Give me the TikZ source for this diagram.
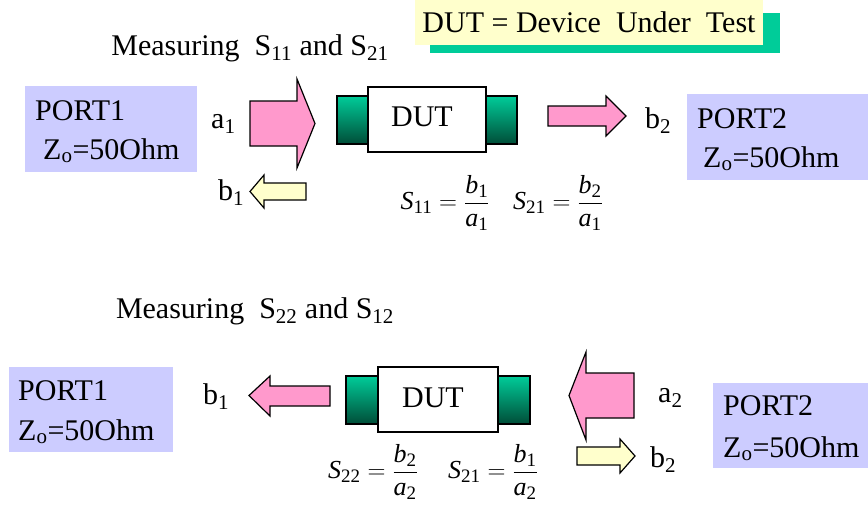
\documentclass[tikz,border=0pt]{standalone}
\usepackage{fontspec}
\setmainfont{Liberation Serif}
\usepackage{amsmath}
\definecolor{lilla}{RGB}{204,204,255}
\definecolor{rosa}{RGB}{255,153,204}
\definecolor{giallo}{RGB}{255,255,204}
\definecolor{verde}{RGB}{0,204,153}
\definecolor{verdescuro}{RGB}{0,77,56}
\newcommand{\pedice}[1]{_{\mbox{\fontsize{19}{19}\selectfont #1}}}
\tikzset{
  testo/.style={font=\fontsize{30}{34}\selectfont, inner sep=0pt},
  formula/.style={font=\fontsize{26}{30}\selectfont, inner sep=0pt},
  porta/.style={fill=lilla, inner sep=0pt},
  freccia/.style={draw=black, line width=1.2pt, line join=miter},
  connettore/.style={draw=black, line width=1.2pt, top color=verde, bottom color=verdescuro},
  scatola/.style={draw=black, line width=1.2pt, fill=white, inner sep=0pt},
}
\begin{document}
\begin{tikzpicture}[x=1pt, y=-1pt]
\useasboundingbox (0,0) rectangle (868,512);
% Legenda
\fill[verde] (430,13) rectangle (780,53);
\node[fill=giallo, inner sep=0pt, minimum width=348, minimum height=45] (legenda) at (589,22.5) {};
\node[testo] (legtesto) at (legenda) {DUT = Device\ \ Under\ \ Test};

% Misura di S11 e S21
\node[testo] (titolo1) at (250,48) {Measuring\ \ S\textsubscript{11} and S\textsubscript{21}};
\node[porta, minimum width=172, minimum height=86] (porta1a) at (111,129) {};
\node[testo, anchor=base west] (p1a) at (35,120) {PORT1};
\node[testo, anchor=base west] (z1a) at (43,159) {Z\textsubscript{o}=50Ohm};
\node[testo, anchor=base west] (a1a) at (211,128) {a\textsubscript{1}};
\draw[freccia, fill=rosa] (250,101) -- (297,101) -- (297,79) -- (315,123.5) -- (297,168) -- (297,146) -- (250,146) -- cycle;
\node[testo, anchor=base west] (b1a) at (218,200) {b\textsubscript{1}};
\draw[freccia, fill=giallo] (250,191.5) -- (264,175) -- (264,183) -- (306,183) -- (306,200) -- (264,200) -- (264,208) -- cycle;
% DUT
\draw[connettore] (337,96) rectangle (369,144);
\draw[connettore] (486,96) rectangle (517,144);
\node[scatola, minimum width=118, minimum height=65] (dut1) at (427,119.5) {};
\node[testo] (dut1t) at (422,117) {DUT};
\draw[freccia, fill=rosa] (548,106) -- (606,106) -- (606,96) -- (626,116) -- (606,136) -- (606,126) -- (548,126) -- cycle;
\node[testo, anchor=base west] (b2a) at (645,128) {b\textsubscript{2}};
\node[porta, minimum width=181, minimum height=86] (porta2a) at (777.5,137) {};
\node[testo, anchor=base west] (p2a) at (697,128) {PORT2};
\node[testo, anchor=base west] (z2a) at (703,167) {Z\textsubscript{o}=50Ohm};
\node[formula] (s11) at (445,203) {$\textit{S}\pedice{11}=\dfrac{\textit{b}\pedice{1}}{\textit{a}\pedice{1}}$};
\node[formula] (s21) at (558,203) {$\textit{S}\pedice{21}=\dfrac{\textit{b}\pedice{2}}{\textit{a}\pedice{1}}$};

% Misura di S22 e S12
\node[testo] (titolo2) at (255,311) {Measuring\ \ S\textsubscript{22} and S\textsubscript{12}};
\node[porta, minimum width=164, minimum height=85] (porta1b) at (91,409.5) {};
\node[testo, anchor=base west] (p1b) at (18,400) {PORT1};
\node[testo, anchor=base west] (z1b) at (18,440) {Z\textsubscript{o}=50Ohm};
\node[testo, anchor=base west] (b1b) at (203,404) {b\textsubscript{1}};
\draw[freccia, fill=rosa] (249,395.5) -- (270,376) -- (270,386) -- (330,386) -- (330,406) -- (270,406) -- (270,416) -- cycle;
% DUT
\draw[connettore] (346,376) rectangle (378,424);
\draw[connettore] (498,376) rectangle (530,424);
\node[scatola, minimum width=120, minimum height=65] (dut2) at (438,399.5) {};
\node[testo] (dut2t) at (433,398) {DUT};
\draw[freccia, fill=rosa] (569,395.5) -- (586,352) -- (586,373) -- (634,373) -- (634,418) -- (586,418) -- (586,440) -- cycle;
\node[testo, anchor=base west] (a2b) at (658,402) {a\textsubscript{2}};
\draw[freccia, fill=giallo] (577,447) -- (620,447) -- (620,439) -- (635,456) -- (620,473) -- (620,465) -- (577,465) -- cycle;
\node[testo, anchor=base west] (b2b) at (650,467) {b\textsubscript{2}};
\node[porta, minimum width=155, minimum height=85] (porta2b) at (790.5,425.5) {};
\node[testo, anchor=base west] (p2b) at (723,415) {PORT2};
\node[testo, anchor=base west] (z2b) at (723,457) {Z\textsubscript{o}=50Ohm};
\node[formula] (s22) at (373,472) {$\textit{S}\pedice{22}=\dfrac{\textit{b}\pedice{2}}{\textit{a}\pedice{2}}$};
\node[formula] (s21b) at (493,472) {$\textit{S}\pedice{21}=\dfrac{\textit{b}\pedice{1}}{\textit{a}\pedice{2}}$};
\end{tikzpicture}
\end{document}
